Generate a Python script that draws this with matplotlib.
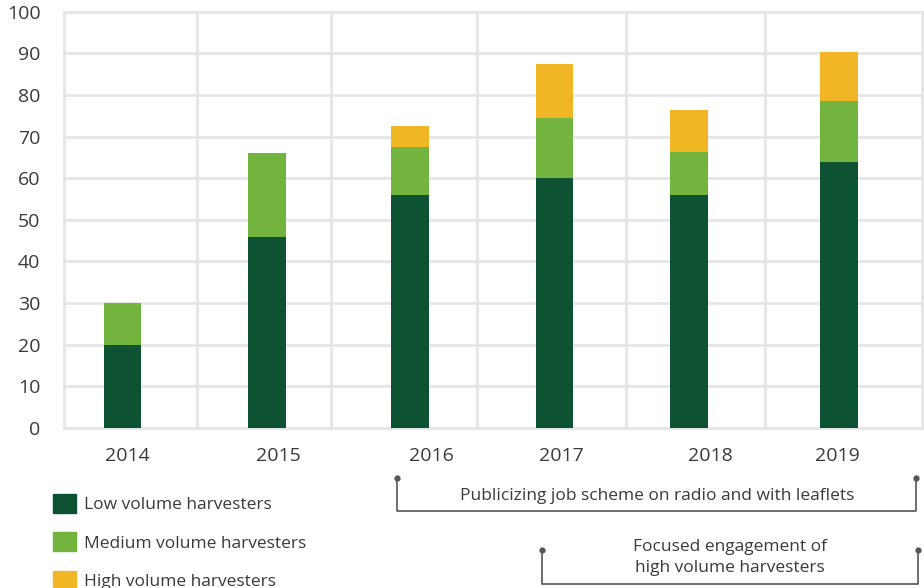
import matplotlib.pyplot as plt
import matplotlib.transforms as mtransforms
from matplotlib.patches import Patch

plt.rcParams['font.family'] = ['Open Sans', 'DejaVu Sans']

# data
years = ["2014", "2015", "2016", "2017", "2018", "2019"]
low = [20, 46, 56, 60, 56, 64]
medium = [10, 20, 11.5, 14.5, 10.3, 14.5]
high = [0, 0, 5, 13, 10, 11.8]
series_names = ["Low volume harvesters", "Medium volume harvesters", "High volume harvesters"]
notes = ["Publicizing job scheme on radio and with leaflets",
         "Focused engagement of\nhigh volume harvesters"]

# layout (x in category units, 6 wide)
bar_x = [0.41, 1.42, 2.42, 3.43, 4.37, 5.42]
label_x = [0.44, 1.50, 2.57, 3.48, 4.52, 5.41]
vgrid_x = [0, 0.93, 1.87, 2.89, 3.93, 4.90, 6]
bar_w = 0.26

c_low, c_med, c_high = "#0d5233", "#73b43e", "#f1b626"
grid_c = "#e6e6e8"
txt_c = "#3a3a3a"

fig = plt.figure(figsize=(9.24, 5.88), dpi=100)
ax = fig.add_axes([64/924, 1-428/588, 858/924, (428-11.7)/588])

bottom_high = [l + m for l, m in zip(low, medium)]
ax.bar(bar_x, low, width=bar_w, color=c_low, zorder=3)
ax.bar(bar_x, medium, width=bar_w, bottom=low, color=c_med, zorder=3)
ax.bar(bar_x, high, width=bar_w, bottom=bottom_high, color=c_high, zorder=3)

ax.set_xlim(0, 6)
ax.set_ylim(0, 100)
for y in range(0, 101, 10):
    ax.axhline(y, color=grid_c, lw=2, zorder=1, clip_on=False)
for x in vgrid_x:
    ax.axvline(x, color=grid_c, lw=2, zorder=1, clip_on=False)
for s in ax.spines.values():
    s.set_visible(False)

ax.set_yticks(range(0, 101, 10))
ax.set_xticks(label_x)
ax.set_xticklabels(years)
ax.tick_params(axis='y', length=0, pad=17, labelsize=14, labelcolor=txt_c)
ax.tick_params(axis='x', length=0, pad=14, labelsize=14, labelcolor=txt_c)

# legend
handles = [Patch(color=c) for c in (c_low, c_med, c_high)]
fig.legend(handles, series_names, loc='upper left', bbox_to_anchor=(53/924, 1-494/588),
           frameon=False, fontsize=12.5, handlelength=1.3, handleheight=1.3,
           handletextpad=0.5, labelspacing=1.1, borderpad=0, borderaxespad=0,
           labelcolor=txt_c)

# annotation brackets below the axis
tr = mtransforms.blended_transform_factory(ax.transData, fig.transFigure)
def bracket(x0, x1, ytop, ybot, text, ytext):
    yt, yb = 1-ytop/588, 1-ybot/588
    ax.plot([x0, x0, x1, x1], [yt, yb, yb, yt], color="#555555", lw=1.2,
            transform=tr, clip_on=False)
    ax.plot([x0, x1], [yt, yt], 'o', color="#555555", ms=3.5, transform=tr, clip_on=False)
    ax.text((x0+x1)/2, 1-ytext/588, text, transform=tr, ha='center', va='center',
            fontsize=12.5, color=txt_c, linespacing=1.4)

bracket(2.33, 5.96, 478, 511, notes[0], 496)
bracket(3.34, 5.97, 550, 584, notes[1], 557.5)

fig.savefig("out.png", dpi=100)
